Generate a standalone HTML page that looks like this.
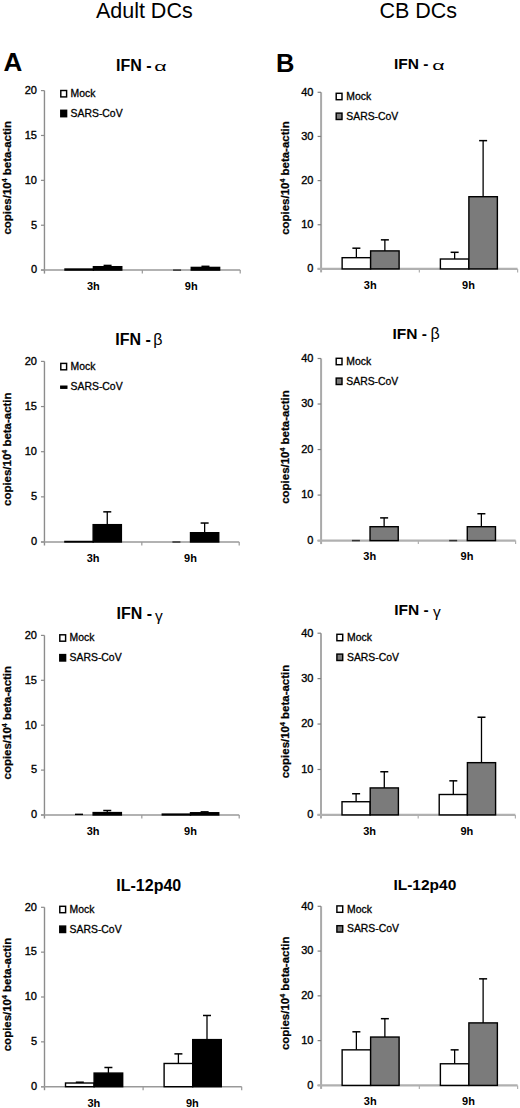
<!DOCTYPE html>
<html><head><meta charset="utf-8"><style>
html,body{margin:0;padding:0;background:#fff;}
body{width:520px;height:1108px;overflow:hidden;}
svg{display:block;}
text{font-family:"Liberation Sans", sans-serif;}
</style></head><body>
<svg width="520" height="1108" viewBox="0 0 520 1108">
<rect x="0" y="0" width="520" height="1108" fill="#fff"/>

<text x="95.9" y="18.1" font-size="21.5" fill="#000">Adult DCs</text>
<text x="379.4" y="18.1" font-size="21.5" fill="#000">CB DCs</text>
<text x="3.5" y="71.3" font-size="26" font-weight="bold" fill="#000">A</text>
<text x="276.0" y="72.2" font-size="25.5" font-weight="bold" fill="#000">B</text>
<line x1="44.45" y1="90.6" x2="44.45" y2="273.6" stroke="#8c8c8c" stroke-width="1.4"/>
<line x1="40.95" y1="270.1" x2="44.45" y2="270.1" stroke="#8c8c8c" stroke-width="1.2"/>
<text x="37" y="273.4" font-size="11" text-anchor="end" fill="#000" stroke="#000" stroke-width="0.35">0</text>
<line x1="40.95" y1="225.23" x2="44.45" y2="225.23" stroke="#8c8c8c" stroke-width="1.2"/>
<text x="37" y="228.53" font-size="11" text-anchor="end" fill="#000" stroke="#000" stroke-width="0.35">5</text>
<line x1="40.95" y1="180.35" x2="44.45" y2="180.35" stroke="#8c8c8c" stroke-width="1.2"/>
<text x="37" y="183.65" font-size="11" text-anchor="end" fill="#000" stroke="#000" stroke-width="0.35">10</text>
<line x1="40.95" y1="135.47" x2="44.45" y2="135.47" stroke="#8c8c8c" stroke-width="1.2"/>
<text x="37" y="138.78" font-size="11" text-anchor="end" fill="#000" stroke="#000" stroke-width="0.35">15</text>
<line x1="40.95" y1="90.6" x2="44.45" y2="90.6" stroke="#8c8c8c" stroke-width="1.2"/>
<text x="37" y="93.9" font-size="11" text-anchor="end" fill="#000" stroke="#000" stroke-width="0.35">20</text>
<line x1="40.95" y1="270.1" x2="240.2" y2="270.1" stroke="#999999" stroke-width="1.5"/>
<line x1="142.32" y1="270.1" x2="142.32" y2="273.6" stroke="#999999" stroke-width="1.2"/>
<line x1="240.2" y1="270.1" x2="240.2" y2="273.6" stroke="#999999" stroke-width="1.2"/>
<rect x="65" y="269.02" width="28.38" height="1.08" fill="#fff" stroke="#000" stroke-width="1.4"/>
<line x1="107.58" y1="265.43" x2="107.58" y2="266.69" stroke="#000" stroke-width="1.3"/>
<line x1="103.58" y1="265.43" x2="111.58" y2="265.43" stroke="#000" stroke-width="1.5"/>
<rect x="93.39" y="266.69" width="28.38" height="3.41" fill="#000" stroke="#000" stroke-width="1.4"/>
<line x1="173.07" y1="270.1" x2="181.07" y2="270.1" stroke="#333" stroke-width="1.5"/>
<line x1="205.45" y1="266.33" x2="205.45" y2="267.41" stroke="#000" stroke-width="1.3"/>
<line x1="201.45" y1="266.33" x2="209.45" y2="266.33" stroke="#000" stroke-width="1.5"/>
<rect x="191.26" y="267.41" width="28.38" height="2.69" fill="#000" stroke="#000" stroke-width="1.4"/>
<text x="93.39" y="289.9" font-size="11" font-weight="bold" text-anchor="middle" fill="#000">3h</text>
<text x="191.26" y="289.9" font-size="11" font-weight="bold" text-anchor="middle" fill="#000">9h</text>
<text transform="translate(11.2,177.85) rotate(-90)" x="0" y="0" font-size="10.6" font-weight="bold" text-anchor="middle" textLength="113.5" lengthAdjust="spacingAndGlyphs" fill="#000" stroke="#000" stroke-width="0.25">copies/10<tspan font-size="6.5" dy="-3.8">4</tspan><tspan dy="3.8"> beta-actin</tspan></text>
<text x="116" y="70.8" font-size="16" font-weight="bold" fill="#000">IFN -</text>
<text transform="translate(154.3,71.1) scale(1.65,1)" x="0" y="0" font-family='"Liberation Serif", serif' font-size="13" fill="#000">α</text>
<rect x="60.8" y="90.5" width="5.8" height="6.4" fill="#fff" stroke="#000" stroke-width="1.45"/>
<text x="70.6" y="97.1" font-size="10.4" fill="#000" stroke="#000" stroke-width="0.3">Mock</text>
<rect x="60.8" y="110.3" width="5.8" height="6.4" fill="#000" stroke="#000" stroke-width="1.45"/>
<text x="70.6" y="116.9" font-size="10.4" fill="#000" stroke="#000" stroke-width="0.3">SARS-CoV</text>
<line x1="44.45" y1="361.4" x2="44.45" y2="545.5" stroke="#8c8c8c" stroke-width="1.4"/>
<line x1="40.95" y1="542" x2="44.45" y2="542" stroke="#8c8c8c" stroke-width="1.2"/>
<text x="37" y="545.3" font-size="11" text-anchor="end" fill="#000" stroke="#000" stroke-width="0.35">0</text>
<line x1="40.95" y1="496.85" x2="44.45" y2="496.85" stroke="#8c8c8c" stroke-width="1.2"/>
<text x="37" y="500.15" font-size="11" text-anchor="end" fill="#000" stroke="#000" stroke-width="0.35">5</text>
<line x1="40.95" y1="451.7" x2="44.45" y2="451.7" stroke="#8c8c8c" stroke-width="1.2"/>
<text x="37" y="455" font-size="11" text-anchor="end" fill="#000" stroke="#000" stroke-width="0.35">10</text>
<line x1="40.95" y1="406.55" x2="44.45" y2="406.55" stroke="#8c8c8c" stroke-width="1.2"/>
<text x="37" y="409.85" font-size="11" text-anchor="end" fill="#000" stroke="#000" stroke-width="0.35">15</text>
<line x1="40.95" y1="361.4" x2="44.45" y2="361.4" stroke="#8c8c8c" stroke-width="1.2"/>
<text x="37" y="364.7" font-size="11" text-anchor="end" fill="#000" stroke="#000" stroke-width="0.35">20</text>
<line x1="40.95" y1="542" x2="239.2" y2="542" stroke="#999999" stroke-width="1.5"/>
<line x1="141.82" y1="542" x2="141.82" y2="545.5" stroke="#999999" stroke-width="1.2"/>
<line x1="239.2" y1="542" x2="239.2" y2="545.5" stroke="#999999" stroke-width="1.2"/>
<rect x="64.9" y="541.46" width="28.24" height="0.54" fill="#fff" stroke="#000" stroke-width="1.4"/>
<line x1="107.26" y1="511.84" x2="107.26" y2="524.66" stroke="#000" stroke-width="1.3"/>
<line x1="103.26" y1="511.84" x2="111.26" y2="511.84" stroke="#000" stroke-width="1.5"/>
<rect x="93.14" y="524.66" width="28.24" height="17.34" fill="#000" stroke="#000" stroke-width="1.4"/>
<line x1="172.39" y1="542" x2="180.39" y2="542" stroke="#333" stroke-width="1.5"/>
<line x1="204.63" y1="523.04" x2="204.63" y2="532.7" stroke="#000" stroke-width="1.3"/>
<line x1="200.63" y1="523.04" x2="208.63" y2="523.04" stroke="#000" stroke-width="1.5"/>
<rect x="190.51" y="532.7" width="28.24" height="9.3" fill="#000" stroke="#000" stroke-width="1.4"/>
<text x="93.14" y="561.8" font-size="11" font-weight="bold" text-anchor="middle" fill="#000">3h</text>
<text x="190.51" y="561.8" font-size="11" font-weight="bold" text-anchor="middle" fill="#000">9h</text>
<text transform="translate(11.2,449.2) rotate(-90)" x="0" y="0" font-size="10.6" font-weight="bold" text-anchor="middle" textLength="113.5" lengthAdjust="spacingAndGlyphs" fill="#000" stroke="#000" stroke-width="0.25">copies/10<tspan font-size="6.5" dy="-3.8">4</tspan><tspan dy="3.8"> beta-actin</tspan></text>
<text x="115.3" y="344.6" font-size="16" font-weight="bold" fill="#000">IFN -</text>
<text transform="translate(153.3,344.6) scale(1.0,1)" x="0" y="0" font-family='"Liberation Serif", serif' font-size="16" fill="#000">β</text>
<rect x="60.8" y="363.4" width="5.8" height="6.4" fill="#fff" stroke="#000" stroke-width="1.45"/>
<text x="70.6" y="370" font-size="10.4" fill="#000" stroke="#000" stroke-width="0.3">Mock</text>
<rect x="60.6" y="386" width="6.4" height="2.4" fill="#000" stroke="#000" stroke-width="1.0"/>
<text x="70.6" y="389.8" font-size="10.4" fill="#000" stroke="#000" stroke-width="0.3">SARS-CoV</text>
<line x1="44.45" y1="635.4" x2="44.45" y2="818.5" stroke="#8c8c8c" stroke-width="1.4"/>
<line x1="40.95" y1="815" x2="44.45" y2="815" stroke="#8c8c8c" stroke-width="1.2"/>
<text x="37" y="818.3" font-size="11" text-anchor="end" fill="#000" stroke="#000" stroke-width="0.35">0</text>
<line x1="40.95" y1="770.1" x2="44.45" y2="770.1" stroke="#8c8c8c" stroke-width="1.2"/>
<text x="37" y="773.4" font-size="11" text-anchor="end" fill="#000" stroke="#000" stroke-width="0.35">5</text>
<line x1="40.95" y1="725.2" x2="44.45" y2="725.2" stroke="#8c8c8c" stroke-width="1.2"/>
<text x="37" y="728.5" font-size="11" text-anchor="end" fill="#000" stroke="#000" stroke-width="0.35">10</text>
<line x1="40.95" y1="680.3" x2="44.45" y2="680.3" stroke="#8c8c8c" stroke-width="1.2"/>
<text x="37" y="683.6" font-size="11" text-anchor="end" fill="#000" stroke="#000" stroke-width="0.35">15</text>
<line x1="40.95" y1="635.4" x2="44.45" y2="635.4" stroke="#8c8c8c" stroke-width="1.2"/>
<text x="37" y="638.7" font-size="11" text-anchor="end" fill="#000" stroke="#000" stroke-width="0.35">20</text>
<line x1="40.95" y1="815" x2="239.2" y2="815" stroke="#999999" stroke-width="1.5"/>
<line x1="141.82" y1="815" x2="141.82" y2="818.5" stroke="#999999" stroke-width="1.2"/>
<line x1="239.2" y1="815" x2="239.2" y2="818.5" stroke="#999999" stroke-width="1.2"/>
<line x1="79.02" y1="814.37" x2="79.02" y2="815" stroke="#000" stroke-width="1.3"/>
<line x1="75.02" y1="814.37" x2="83.02" y2="814.37" stroke="#000" stroke-width="1.5"/>
<line x1="107.26" y1="810.51" x2="107.26" y2="812.58" stroke="#000" stroke-width="1.3"/>
<line x1="103.26" y1="810.51" x2="111.26" y2="810.51" stroke="#000" stroke-width="1.5"/>
<rect x="93.14" y="812.58" width="28.24" height="2.42" fill="#000" stroke="#000" stroke-width="1.4"/>
<rect x="162.27" y="814.1" width="28.24" height="0.9" fill="#fff" stroke="#000" stroke-width="1.4"/>
<line x1="204.63" y1="811.86" x2="204.63" y2="812.75" stroke="#000" stroke-width="1.3"/>
<line x1="200.63" y1="811.86" x2="208.63" y2="811.86" stroke="#000" stroke-width="1.5"/>
<rect x="190.51" y="812.75" width="28.24" height="2.25" fill="#000" stroke="#000" stroke-width="1.4"/>
<text x="93.14" y="834.8" font-size="11" font-weight="bold" text-anchor="middle" fill="#000">3h</text>
<text x="190.51" y="834.8" font-size="11" font-weight="bold" text-anchor="middle" fill="#000">9h</text>
<text transform="translate(11.2,722.7) rotate(-90)" x="0" y="0" font-size="10.6" font-weight="bold" text-anchor="middle" textLength="113.5" lengthAdjust="spacingAndGlyphs" fill="#000" stroke="#000" stroke-width="0.25">copies/10<tspan font-size="6.5" dy="-3.8">4</tspan><tspan dy="3.8"> beta-actin</tspan></text>
<text x="116.5" y="618.5" font-size="16" font-weight="bold" fill="#000">IFN -</text>
<text transform="translate(155.1,620.5) scale(1.0,1)" x="0" y="0" font-family='"Liberation Serif", serif' font-size="15.5" fill="#000">γ</text>
<rect x="59.8" y="634.8" width="5.8" height="6.4" fill="#fff" stroke="#000" stroke-width="1.45"/>
<text x="69.6" y="641.4" font-size="10.4" fill="#000" stroke="#000" stroke-width="0.3">Mock</text>
<rect x="59.8" y="654.6" width="5.8" height="6.4" fill="#000" stroke="#000" stroke-width="1.45"/>
<text x="69.6" y="661.2" font-size="10.4" fill="#000" stroke="#000" stroke-width="0.3">SARS-CoV</text>
<line x1="44.5" y1="907.3" x2="44.5" y2="1090.2" stroke="#8c8c8c" stroke-width="1.4"/>
<line x1="41" y1="1086.7" x2="44.5" y2="1086.7" stroke="#8c8c8c" stroke-width="1.2"/>
<text x="37" y="1090" font-size="11" text-anchor="end" fill="#000" stroke="#000" stroke-width="0.35">0</text>
<line x1="41" y1="1041.85" x2="44.5" y2="1041.85" stroke="#8c8c8c" stroke-width="1.2"/>
<text x="37" y="1045.15" font-size="11" text-anchor="end" fill="#000" stroke="#000" stroke-width="0.35">5</text>
<line x1="41" y1="997" x2="44.5" y2="997" stroke="#8c8c8c" stroke-width="1.2"/>
<text x="37" y="1000.3" font-size="11" text-anchor="end" fill="#000" stroke="#000" stroke-width="0.35">10</text>
<line x1="41" y1="952.15" x2="44.5" y2="952.15" stroke="#8c8c8c" stroke-width="1.2"/>
<text x="37" y="955.45" font-size="11" text-anchor="end" fill="#000" stroke="#000" stroke-width="0.35">15</text>
<line x1="41" y1="907.3" x2="44.5" y2="907.3" stroke="#8c8c8c" stroke-width="1.2"/>
<text x="37" y="910.6" font-size="11" text-anchor="end" fill="#000" stroke="#000" stroke-width="0.35">20</text>
<line x1="41" y1="1086.7" x2="241.7" y2="1086.7" stroke="#999999" stroke-width="1.5"/>
<line x1="143.1" y1="1086.7" x2="143.1" y2="1090.2" stroke="#999999" stroke-width="1.2"/>
<line x1="241.7" y1="1086.7" x2="241.7" y2="1090.2" stroke="#999999" stroke-width="1.2"/>
<line x1="79.8" y1="1082.22" x2="79.8" y2="1083.02" stroke="#000" stroke-width="1.3"/>
<line x1="75.8" y1="1082.22" x2="83.8" y2="1082.22" stroke="#000" stroke-width="1.5"/>
<rect x="65.51" y="1083.02" width="28.59" height="3.68" fill="#fff" stroke="#000" stroke-width="1.4"/>
<line x1="108.4" y1="1067.5" x2="108.4" y2="1073.07" stroke="#000" stroke-width="1.3"/>
<line x1="104.4" y1="1067.5" x2="112.4" y2="1067.5" stroke="#000" stroke-width="1.5"/>
<rect x="94.1" y="1073.07" width="28.59" height="13.63" fill="#000" stroke="#000" stroke-width="1.4"/>
<line x1="178.4" y1="1053.87" x2="178.4" y2="1063.47" stroke="#000" stroke-width="1.3"/>
<line x1="174.4" y1="1053.87" x2="182.4" y2="1053.87" stroke="#000" stroke-width="1.5"/>
<rect x="164.11" y="1063.47" width="28.59" height="23.23" fill="#fff" stroke="#000" stroke-width="1.4"/>
<line x1="207" y1="1015.48" x2="207" y2="1039.61" stroke="#000" stroke-width="1.3"/>
<line x1="203" y1="1015.48" x2="211" y2="1015.48" stroke="#000" stroke-width="1.5"/>
<rect x="192.7" y="1039.61" width="28.59" height="47.09" fill="#000" stroke="#000" stroke-width="1.4"/>
<text x="93.8" y="1106.5" font-size="11" font-weight="bold" text-anchor="middle" fill="#000">3h</text>
<text x="192.4" y="1106.5" font-size="11" font-weight="bold" text-anchor="middle" fill="#000">9h</text>
<text transform="translate(11.2,994.5) rotate(-90)" x="0" y="0" font-size="10.6" font-weight="bold" text-anchor="middle" textLength="113.5" lengthAdjust="spacingAndGlyphs" fill="#000" stroke="#000" stroke-width="0.25">copies/10<tspan font-size="6.5" dy="-3.8">4</tspan><tspan dy="3.8"> beta-actin</tspan></text>
<text x="116.3" y="890.5" font-size="16" font-weight="bold" fill="#000">IL-12p40</text>
<rect x="59.8" y="906.3" width="5.8" height="6.4" fill="#fff" stroke="#000" stroke-width="1.45"/>
<text x="69.6" y="912.9" font-size="10.4" fill="#000" stroke="#000" stroke-width="0.3">Mock</text>
<rect x="59.8" y="926.1" width="5.8" height="6.4" fill="#000" stroke="#000" stroke-width="1.45"/>
<text x="69.6" y="932.7" font-size="10.4" fill="#000" stroke="#000" stroke-width="0.3">SARS-CoV</text>
<line x1="321.1" y1="92.3" x2="321.1" y2="272.4" stroke="#a9a9a9" stroke-width="2.0"/>
<line x1="317.6" y1="268.9" x2="321.1" y2="268.9" stroke="#808080" stroke-width="1.2"/>
<text x="313.4" y="272.2" font-size="11" text-anchor="end" fill="#000" stroke="#000" stroke-width="0.35">0</text>
<line x1="317.6" y1="224.75" x2="321.1" y2="224.75" stroke="#808080" stroke-width="1.2"/>
<text x="313.4" y="228.05" font-size="11" text-anchor="end" fill="#000" stroke="#000" stroke-width="0.35">10</text>
<line x1="317.6" y1="180.6" x2="321.1" y2="180.6" stroke="#808080" stroke-width="1.2"/>
<text x="313.4" y="183.9" font-size="11" text-anchor="end" fill="#000" stroke="#000" stroke-width="0.35">20</text>
<line x1="317.6" y1="136.45" x2="321.1" y2="136.45" stroke="#808080" stroke-width="1.2"/>
<text x="313.4" y="139.75" font-size="11" text-anchor="end" fill="#000" stroke="#000" stroke-width="0.35">30</text>
<line x1="317.6" y1="92.3" x2="321.1" y2="92.3" stroke="#808080" stroke-width="1.2"/>
<text x="313.4" y="95.6" font-size="11" text-anchor="end" fill="#000" stroke="#000" stroke-width="0.35">40</text>
<line x1="317.6" y1="268.9" x2="517.6" y2="268.9" stroke="#b0b0b0" stroke-width="2.2"/>
<line x1="419.35" y1="268.9" x2="419.35" y2="272.4" stroke="#b0b0b0" stroke-width="1.2"/>
<line x1="517.6" y1="268.9" x2="517.6" y2="272.4" stroke="#b0b0b0" stroke-width="1.2"/>
<line x1="356.38" y1="248.19" x2="356.38" y2="257.69" stroke="#000" stroke-width="1.3"/>
<line x1="352.38" y1="248.19" x2="360.38" y2="248.19" stroke="#000" stroke-width="1.5"/>
<rect x="342.13" y="257.69" width="28.49" height="11.21" fill="#fff" stroke="#000" stroke-width="1.4"/>
<line x1="384.87" y1="239.85" x2="384.87" y2="250.89" stroke="#000" stroke-width="1.3"/>
<line x1="380.87" y1="239.85" x2="388.87" y2="239.85" stroke="#000" stroke-width="1.5"/>
<rect x="370.62" y="250.89" width="28.49" height="18.01" fill="#7b7b7b" stroke="#000" stroke-width="1.4"/>
<line x1="454.63" y1="252.3" x2="454.63" y2="259.01" stroke="#000" stroke-width="1.3"/>
<line x1="450.63" y1="252.3" x2="458.63" y2="252.3" stroke="#000" stroke-width="1.5"/>
<rect x="440.38" y="259.01" width="28.49" height="9.89" fill="#fff" stroke="#000" stroke-width="1.4"/>
<line x1="483.12" y1="140.64" x2="483.12" y2="196.71" stroke="#000" stroke-width="1.3"/>
<line x1="479.12" y1="140.64" x2="487.12" y2="140.64" stroke="#000" stroke-width="1.5"/>
<rect x="468.88" y="196.71" width="28.49" height="72.19" fill="#7b7b7b" stroke="#000" stroke-width="1.4"/>
<text x="370.23" y="288.7" font-size="11" font-weight="bold" text-anchor="middle" fill="#000">3h</text>
<text x="468.48" y="288.7" font-size="11" font-weight="bold" text-anchor="middle" fill="#000">9h</text>
<text transform="translate(288.6,178.1) rotate(-90)" x="0" y="0" font-size="10.6" font-weight="bold" text-anchor="middle" textLength="113.5" lengthAdjust="spacingAndGlyphs" fill="#000" stroke="#000" stroke-width="0.25">copies/10<tspan font-size="6.5" dy="-3.8">4</tspan><tspan dy="3.8"> beta-actin</tspan></text>
<text x="394" y="69.2" font-size="15.5" font-weight="bold" fill="#000">IFN -</text>
<text transform="translate(432.3,69.5) scale(1.65,1)" x="0" y="0" font-family='"Liberation Serif", serif' font-size="13" fill="#000">α</text>
<rect x="336.2" y="93.3" width="5.8" height="6.4" fill="#fff" stroke="#000" stroke-width="1.45"/>
<text x="346.3" y="99.9" font-size="10.4" fill="#000" stroke="#000" stroke-width="0.3">Mock</text>
<rect x="336.2" y="113.1" width="5.8" height="6.4" fill="#7b7b7b" stroke="#000" stroke-width="1.45"/>
<text x="346.3" y="119.7" font-size="10.4" fill="#000" stroke="#000" stroke-width="0.3">SARS-CoV</text>
<line x1="321.1" y1="358.5" x2="321.1" y2="544.1" stroke="#a9a9a9" stroke-width="2.0"/>
<line x1="317.6" y1="540.6" x2="321.1" y2="540.6" stroke="#808080" stroke-width="1.2"/>
<text x="313.4" y="543.9" font-size="11" text-anchor="end" fill="#000" stroke="#000" stroke-width="0.35">0</text>
<line x1="317.6" y1="495.08" x2="321.1" y2="495.08" stroke="#808080" stroke-width="1.2"/>
<text x="313.4" y="498.38" font-size="11" text-anchor="end" fill="#000" stroke="#000" stroke-width="0.35">10</text>
<line x1="317.6" y1="449.55" x2="321.1" y2="449.55" stroke="#808080" stroke-width="1.2"/>
<text x="313.4" y="452.85" font-size="11" text-anchor="end" fill="#000" stroke="#000" stroke-width="0.35">20</text>
<line x1="317.6" y1="404.02" x2="321.1" y2="404.02" stroke="#808080" stroke-width="1.2"/>
<text x="313.4" y="407.32" font-size="11" text-anchor="end" fill="#000" stroke="#000" stroke-width="0.35">30</text>
<line x1="317.6" y1="358.5" x2="321.1" y2="358.5" stroke="#808080" stroke-width="1.2"/>
<text x="313.4" y="361.8" font-size="11" text-anchor="end" fill="#000" stroke="#000" stroke-width="0.35">40</text>
<line x1="317.6" y1="540.6" x2="515.6" y2="540.6" stroke="#b0b0b0" stroke-width="2.2"/>
<line x1="418.35" y1="540.6" x2="418.35" y2="544.1" stroke="#b0b0b0" stroke-width="1.2"/>
<line x1="515.6" y1="540.6" x2="515.6" y2="544.1" stroke="#b0b0b0" stroke-width="1.2"/>
<line x1="351.92" y1="540.6" x2="359.92" y2="540.6" stroke="#333" stroke-width="1.5"/>
<line x1="384.13" y1="517.88" x2="384.13" y2="526.71" stroke="#000" stroke-width="1.3"/>
<line x1="380.13" y1="517.88" x2="388.13" y2="517.88" stroke="#000" stroke-width="1.5"/>
<rect x="370.03" y="526.71" width="28.2" height="13.89" fill="#7b7b7b" stroke="#000" stroke-width="1.4"/>
<line x1="449.17" y1="540.6" x2="457.17" y2="540.6" stroke="#333" stroke-width="1.5"/>
<line x1="481.38" y1="513.74" x2="481.38" y2="526.71" stroke="#000" stroke-width="1.3"/>
<line x1="477.38" y1="513.74" x2="485.38" y2="513.74" stroke="#000" stroke-width="1.5"/>
<rect x="467.28" y="526.71" width="28.2" height="13.89" fill="#7b7b7b" stroke="#000" stroke-width="1.4"/>
<text x="369.73" y="560.4" font-size="11" font-weight="bold" text-anchor="middle" fill="#000">3h</text>
<text x="466.98" y="560.4" font-size="11" font-weight="bold" text-anchor="middle" fill="#000">9h</text>
<text transform="translate(288.6,447.05) rotate(-90)" x="0" y="0" font-size="10.6" font-weight="bold" text-anchor="middle" textLength="113.5" lengthAdjust="spacingAndGlyphs" fill="#000" stroke="#000" stroke-width="0.25">copies/10<tspan font-size="6.5" dy="-3.8">4</tspan><tspan dy="3.8"> beta-actin</tspan></text>
<text x="392.4" y="339.2" font-size="15.5" font-weight="bold" fill="#000">IFN -</text>
<text transform="translate(430.4,339.2) scale(1.0,1)" x="0" y="0" font-family='"Liberation Serif", serif' font-size="16" fill="#000">β</text>
<rect x="336.2" y="358.3" width="5.8" height="6.4" fill="#fff" stroke="#000" stroke-width="1.45"/>
<text x="346.3" y="364.9" font-size="10.4" fill="#000" stroke="#000" stroke-width="0.3">Mock</text>
<rect x="336.2" y="378.1" width="5.8" height="6.4" fill="#7b7b7b" stroke="#000" stroke-width="1.45"/>
<text x="346.3" y="384.7" font-size="10.4" fill="#000" stroke="#000" stroke-width="0.3">SARS-CoV</text>
<line x1="321" y1="633.2" x2="321" y2="818.4" stroke="#a9a9a9" stroke-width="2.0"/>
<line x1="317.5" y1="814.9" x2="321" y2="814.9" stroke="#808080" stroke-width="1.2"/>
<text x="313.4" y="818.2" font-size="11" text-anchor="end" fill="#000" stroke="#000" stroke-width="0.35">0</text>
<line x1="317.5" y1="769.48" x2="321" y2="769.48" stroke="#808080" stroke-width="1.2"/>
<text x="313.4" y="772.77" font-size="11" text-anchor="end" fill="#000" stroke="#000" stroke-width="0.35">10</text>
<line x1="317.5" y1="724.05" x2="321" y2="724.05" stroke="#808080" stroke-width="1.2"/>
<text x="313.4" y="727.35" font-size="11" text-anchor="end" fill="#000" stroke="#000" stroke-width="0.35">20</text>
<line x1="317.5" y1="678.62" x2="321" y2="678.62" stroke="#808080" stroke-width="1.2"/>
<text x="313.4" y="681.92" font-size="11" text-anchor="end" fill="#000" stroke="#000" stroke-width="0.35">30</text>
<line x1="317.5" y1="633.2" x2="321" y2="633.2" stroke="#808080" stroke-width="1.2"/>
<text x="313.4" y="636.5" font-size="11" text-anchor="end" fill="#000" stroke="#000" stroke-width="0.35">40</text>
<line x1="317.5" y1="814.9" x2="515.4" y2="814.9" stroke="#b0b0b0" stroke-width="2.2"/>
<line x1="418.2" y1="814.9" x2="418.2" y2="818.4" stroke="#b0b0b0" stroke-width="1.2"/>
<line x1="515.4" y1="814.9" x2="515.4" y2="818.4" stroke="#b0b0b0" stroke-width="1.2"/>
<line x1="356.11" y1="793.73" x2="356.11" y2="801.73" stroke="#000" stroke-width="1.3"/>
<line x1="352.11" y1="793.73" x2="360.11" y2="793.73" stroke="#000" stroke-width="1.5"/>
<rect x="342.01" y="801.73" width="28.19" height="13.17" fill="#fff" stroke="#000" stroke-width="1.4"/>
<line x1="384.29" y1="771.75" x2="384.29" y2="787.92" stroke="#000" stroke-width="1.3"/>
<line x1="380.29" y1="771.75" x2="388.29" y2="771.75" stroke="#000" stroke-width="1.5"/>
<rect x="370.2" y="787.92" width="28.19" height="26.98" fill="#7b7b7b" stroke="#000" stroke-width="1.4"/>
<line x1="453.31" y1="780.83" x2="453.31" y2="794.5" stroke="#000" stroke-width="1.3"/>
<line x1="449.31" y1="780.83" x2="457.31" y2="780.83" stroke="#000" stroke-width="1.5"/>
<rect x="439.21" y="794.5" width="28.19" height="20.4" fill="#fff" stroke="#000" stroke-width="1.4"/>
<line x1="481.49" y1="717.24" x2="481.49" y2="762.66" stroke="#000" stroke-width="1.3"/>
<line x1="477.49" y1="717.24" x2="485.49" y2="717.24" stroke="#000" stroke-width="1.5"/>
<rect x="467.4" y="762.66" width="28.19" height="52.24" fill="#7b7b7b" stroke="#000" stroke-width="1.4"/>
<text x="369.6" y="834.7" font-size="11" font-weight="bold" text-anchor="middle" fill="#000">3h</text>
<text x="466.8" y="834.7" font-size="11" font-weight="bold" text-anchor="middle" fill="#000">9h</text>
<text transform="translate(288.6,721.55) rotate(-90)" x="0" y="0" font-size="10.6" font-weight="bold" text-anchor="middle" textLength="113.5" lengthAdjust="spacingAndGlyphs" fill="#000" stroke="#000" stroke-width="0.25">copies/10<tspan font-size="6.5" dy="-3.8">4</tspan><tspan dy="3.8"> beta-actin</tspan></text>
<text x="394.3" y="614.9" font-size="15.5" font-weight="bold" fill="#000">IFN -</text>
<text transform="translate(432.9,616.9) scale(1.0,1)" x="0" y="0" font-family='"Liberation Serif", serif' font-size="15.5" fill="#000">γ</text>
<rect x="336.9" y="634.3" width="5.8" height="6.4" fill="#fff" stroke="#000" stroke-width="1.45"/>
<text x="347" y="640.9" font-size="10.4" fill="#000" stroke="#000" stroke-width="0.3">Mock</text>
<rect x="336.9" y="654.1" width="5.8" height="6.4" fill="#7b7b7b" stroke="#000" stroke-width="1.45"/>
<text x="347" y="660.7" font-size="10.4" fill="#000" stroke="#000" stroke-width="0.3">SARS-CoV</text>
<line x1="321.1" y1="906.3" x2="321.1" y2="1088.9" stroke="#a9a9a9" stroke-width="2.0"/>
<line x1="317.6" y1="1085.4" x2="321.1" y2="1085.4" stroke="#808080" stroke-width="1.2"/>
<text x="313.4" y="1088.7" font-size="11" text-anchor="end" fill="#000" stroke="#000" stroke-width="0.35">0</text>
<line x1="317.6" y1="1040.62" x2="321.1" y2="1040.62" stroke="#808080" stroke-width="1.2"/>
<text x="313.4" y="1043.92" font-size="11" text-anchor="end" fill="#000" stroke="#000" stroke-width="0.35">10</text>
<line x1="317.6" y1="995.85" x2="321.1" y2="995.85" stroke="#808080" stroke-width="1.2"/>
<text x="313.4" y="999.15" font-size="11" text-anchor="end" fill="#000" stroke="#000" stroke-width="0.35">20</text>
<line x1="317.6" y1="951.08" x2="321.1" y2="951.08" stroke="#808080" stroke-width="1.2"/>
<text x="313.4" y="954.38" font-size="11" text-anchor="end" fill="#000" stroke="#000" stroke-width="0.35">30</text>
<line x1="317.6" y1="906.3" x2="321.1" y2="906.3" stroke="#808080" stroke-width="1.2"/>
<text x="313.4" y="909.6" font-size="11" text-anchor="end" fill="#000" stroke="#000" stroke-width="0.35">40</text>
<line x1="317.6" y1="1085.4" x2="517.6" y2="1085.4" stroke="#b0b0b0" stroke-width="2.2"/>
<line x1="419.35" y1="1085.4" x2="419.35" y2="1088.9" stroke="#b0b0b0" stroke-width="1.2"/>
<line x1="517.6" y1="1085.4" x2="517.6" y2="1088.9" stroke="#b0b0b0" stroke-width="1.2"/>
<line x1="356.38" y1="1031.8" x2="356.38" y2="1049.85" stroke="#000" stroke-width="1.3"/>
<line x1="352.38" y1="1031.8" x2="360.38" y2="1031.8" stroke="#000" stroke-width="1.5"/>
<rect x="342.13" y="1049.85" width="28.49" height="35.55" fill="#fff" stroke="#000" stroke-width="1.4"/>
<line x1="384.87" y1="1018.69" x2="384.87" y2="1037.04" stroke="#000" stroke-width="1.3"/>
<line x1="380.87" y1="1018.69" x2="388.87" y2="1018.69" stroke="#000" stroke-width="1.5"/>
<rect x="370.62" y="1037.04" width="28.49" height="48.36" fill="#7b7b7b" stroke="#000" stroke-width="1.4"/>
<line x1="454.63" y1="1049.85" x2="454.63" y2="1063.77" stroke="#000" stroke-width="1.3"/>
<line x1="450.63" y1="1049.85" x2="458.63" y2="1049.85" stroke="#000" stroke-width="1.5"/>
<rect x="440.38" y="1063.77" width="28.49" height="21.63" fill="#fff" stroke="#000" stroke-width="1.4"/>
<line x1="483.12" y1="978.84" x2="483.12" y2="1022.89" stroke="#000" stroke-width="1.3"/>
<line x1="479.12" y1="978.84" x2="487.12" y2="978.84" stroke="#000" stroke-width="1.5"/>
<rect x="468.88" y="1022.89" width="28.49" height="62.51" fill="#7b7b7b" stroke="#000" stroke-width="1.4"/>
<text x="370.23" y="1105.2" font-size="11" font-weight="bold" text-anchor="middle" fill="#000">3h</text>
<text x="468.48" y="1105.2" font-size="11" font-weight="bold" text-anchor="middle" fill="#000">9h</text>
<text transform="translate(288.6,993.35) rotate(-90)" x="0" y="0" font-size="10.6" font-weight="bold" text-anchor="middle" textLength="113.5" lengthAdjust="spacingAndGlyphs" fill="#000" stroke="#000" stroke-width="0.25">copies/10<tspan font-size="6.5" dy="-3.8">4</tspan><tspan dy="3.8"> beta-actin</tspan></text>
<text x="393.4" y="889.8" font-size="15.5" font-weight="bold" fill="#000">IL-12p40</text>
<rect x="336.9" y="905.9" width="5.8" height="6.4" fill="#fff" stroke="#000" stroke-width="1.45"/>
<text x="347" y="912.5" font-size="10.4" fill="#000" stroke="#000" stroke-width="0.3">Mock</text>
<rect x="336.9" y="925.7" width="5.8" height="6.4" fill="#7b7b7b" stroke="#000" stroke-width="1.45"/>
<text x="347" y="932.3" font-size="10.4" fill="#000" stroke="#000" stroke-width="0.3">SARS-CoV</text>
</svg>
</body></html>
